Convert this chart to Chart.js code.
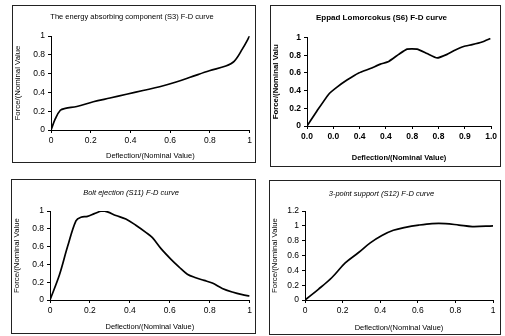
<!DOCTYPE html>
<html>
<head>
<meta charset="utf-8">
<script src="https://cdn.jsdelivr.net/npm/chart.js@4"></script>
<style>
  html, body { margin: 0; padding: 0; background: #fff; }
  body { width: 505px; height: 336px; position: relative; overflow: hidden; }
  .panel { position: absolute; border: 1px solid #222; box-sizing: border-box; background: #fff; }
  .panel canvas { display: block; }
</style>
</head>
<body>
<div class="panel" id="p1" style="left:12px;top:5px;width:244px;height:158px;"><canvas id="c1"></canvas></div>
<div class="panel" id="p2" style="left:270px;top:5px;width:231px;height:162px;"><canvas id="c2"></canvas></div>
<div class="panel" id="p3" style="left:11px;top:179px;width:245px;height:155px;"><canvas id="c3"></canvas></div>
<div class="panel" id="p4" style="left:269px;top:180px;width:232px;height:155px;"><canvas id="c4"></canvas></div>
<script>
'use strict';

// S3 energy absorbing component
const s3X = [0, 0.022, 0.047, 0.072, 0.13, 0.213, 0.297, 0.38, 0.463, 0.547, 0.63, 0.713, 0.797, 0.88, 0.922, 0.963, 1.0];
const s3Y = [0, 0.12, 0.21, 0.23, 0.25, 0.30, 0.34, 0.38, 0.42, 0.46, 0.51, 0.57, 0.63, 0.68, 0.73, 0.86, 1.0];

// S6 (scan is garbled)
const s6X = [0, 0.054, 0.118, 0.163, 0.217, 0.281, 0.344, 0.399, 0.444, 0.498, 0.543, 0.598, 0.652, 0.707, 0.761, 0.806, 0.851, 0.897, 0.951, 0.996];
const s6Y = [0, 0.17, 0.36, 0.44, 0.52, 0.60, 0.65, 0.70, 0.73, 0.81, 0.87, 0.87, 0.82, 0.77, 0.81, 0.86, 0.90, 0.92, 0.95, 0.99];
const s6XTicks = ['0.0', '0.0', '0.4', '0.4', '0.8', '0.8', '0.9', '1.0'];

// S11 bolt ejection
const s11X = [0, 0.047, 0.088, 0.13, 0.155, 0.188, 0.222, 0.26, 0.288, 0.33, 0.38, 0.43, 0.48, 0.513, 0.555, 0.605, 0.647, 0.688, 0.73, 0.772, 0.813, 0.863, 0.913, 0.963, 1.0];
const s11Y = [0, 0.28, 0.60, 0.89, 0.93, 0.94, 0.97, 1.0, 0.99, 0.95, 0.91, 0.84, 0.76, 0.70, 0.58, 0.46, 0.37, 0.29, 0.25, 0.22, 0.19, 0.13, 0.09, 0.06, 0.045];

// S12 3-point support
const s12X = [0, 0.071, 0.142, 0.214, 0.285, 0.347, 0.409, 0.47, 0.534, 0.605, 0.676, 0.747, 0.819, 0.89, 1.0];
const s12Y = [0, 0.144, 0.30, 0.50, 0.64, 0.77, 0.87, 0.94, 0.98, 1.01, 1.03, 1.03, 1.01, 0.99, 1.0];

const FONT = "'Liberation Sans', Arial, sans-serif";
const INK = '#000';

const fmt = v => (v === 0 || v === 1) ? String(v) : String(+v.toFixed(1));

const makeChart = (id, xs, ys, o) => {
  const el = document.getElementById(id);
  const box = el.parentElement;
  el.width = box.clientWidth;
  el.height = box.clientHeight;
  return new Chart(el, {
    type: 'line',
    data: {
      datasets: [{
        data: xs.map((x, i) => ({ x, y: ys[i] })),
        borderColor: INK,
        borderWidth: 1.7,
        pointRadius: 0,
        tension: o.tension,
        fill: false,
      }]
    },
    options: {
      responsive: false,
      animation: false,
      layout: { padding: o.pad },
      plugins: {
        legend: { display: false },
        tooltip: { enabled: false },
        title: {
          display: true,
          text: o.title,
          color: INK,
          font: { family: FONT, size: o.titleSize || 7.5, style: o.titleStyle || 'normal', weight: o.titleWeight || 'normal' },
          padding: o.titlePad,
        },
      },
      scales: {
        x: {
          type: 'linear',
          min: 0, max: 1,
          afterBuildTicks: s => { s.ticks = o.xTicks.map(v => ({ value: v })); },
          afterFit: s => { s.height = o.xH; },
          grid: { drawOnChartArea: false, color: INK, tickLength: 3 },
          border: { color: INK, width: 1 },
          ticks: {
            color: INK, maxRotation: 0, padding: 3, autoSkip: false,
            font: { family: FONT, size: 8.5, weight: o.tickWeight || 'normal' },
            callback: o.xLabel,
          },
          title: {
            display: true,
            text: 'Deflection/(Nominal Value)',
            color: INK,
            font: { family: FONT, size: 7.5, weight: o.tickWeight || 'normal' },
            padding: { top: 2, bottom: 0 },
          },
        },
        y: {
          type: 'linear',
          min: 0, max: o.yMax,
          afterFit: s => { s.width = o.yW; },
          grid: { drawOnChartArea: false, color: INK, tickLength: 3 },
          border: { color: INK, width: 1 },
          ticks: {
            color: INK, stepSize: 0.2, padding: 3,
            font: { family: FONT, size: 8.5, weight: o.tickWeight || 'normal' },
            callback: v => fmt(v),
          },
          title: {
            display: true,
            text: o.yTitle,
            color: INK,
            font: { family: FONT, size: 7.8, weight: o.tickWeight || 'normal' },
            padding: { top: 0, bottom: 1 },
          },
        },
      },
    },
  });
};

const tenths = [0, 0.2, 0.4, 0.6, 0.8, 1];
const sevenths = s6XTicks.map((_, i) => i / (s6XTicks.length - 1));

makeChart('c1', s3X, s3Y, {
  title: 'The energy absorbing component (S3) F-D curve',
  titlePad: { top: 6, bottom: 15 },
  pad: { left: 0, right: 4, top: 0, bottom: 2 },
  yTitle: 'Force/(Nominal Value',
  yMax: 1, yW: 38, xH: 30,
  xTicks: tenths,
  xLabel: v => fmt(v),
  tension: 0.35,
});

makeChart('c2', s6X, s6Y, {
  title: 'Eppad Lomorcokus (S6) F-D curve',
  titleWeight: 'bold',
  titleSize: 8,
  tickWeight: 'bold',
  titlePad: { top: 7, bottom: 15 },
  pad: { left: 0, right: 8, top: 0, bottom: 4 },
  yTitle: 'Force/(Nominal Valu',
  yMax: 1, yW: 36, xH: 36,
  xTicks: sevenths,
  xLabel: (v, i) => s6XTicks[i],
  tension: 0.15,
});

makeChart('c3', s11X, s11Y, {
  title: 'Bolt ejection (S11) F-D curve',
  titleStyle: 'italic',
  titlePad: { top: 8, bottom: 14 },
  pad: { left: 0, right: 5, top: 0, bottom: 2 },
  yTitle: 'Force/(Nominal Value',
  yMax: 1, yW: 38, xH: 31,
  xTicks: tenths,
  xLabel: v => fmt(v),
  tension: 0.35,
});

makeChart('c4', s12X, s12Y, {
  title: '3-point support (S12) F-D curve',
  titleStyle: 'italic',
  titlePad: { top: 8, bottom: 13 },
  pad: { left: 0, right: 7, top: 0, bottom: 2 },
  yTitle: 'Force/(Nominal Value',
  yMax: 1.2, yW: 35, xH: 32,
  xTicks: tenths,
  xLabel: v => fmt(v),
  tension: 0.35,
});
</script>
</body>
</html>
